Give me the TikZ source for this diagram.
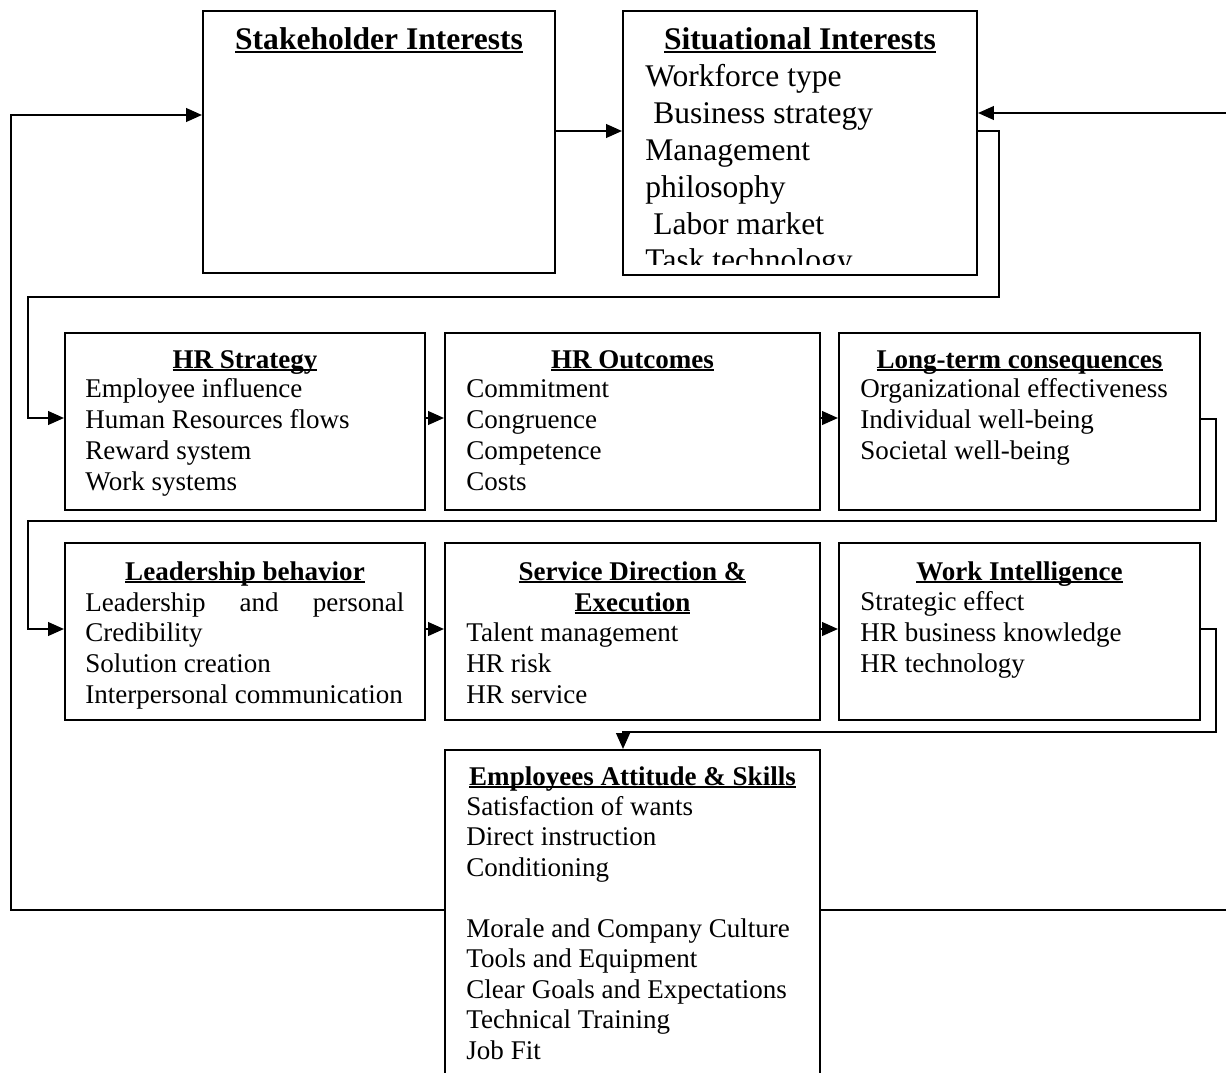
\documentclass[tikz,border=0pt]{standalone}
\usepackage{fontspec}
\setmainfont{Liberation Serif}
\usetikzlibrary{arrows.meta,fit}

\newsavebox{\titlebox}
\newcommand{\boxtitle}[1]{\sbox{\titlebox}{\textbf{#1}}%
  \rlap{\rule[-1.5pt]{\wd\titlebox}{0.9pt}}\usebox{\titlebox}}

\begin{document}
\begin{tikzpicture}[x=0.444pt, y=-0.444pt,
  box/.style={draw, line width=0.9pt, inner sep=0pt},
  big/.style={font=\fontsize{14pt}{17pt}\selectfont, inner sep=0pt},
  small/.style={font=\fontsize{12pt}{14pt}\selectfont, inner sep=0pt},
  arr/.style={line width=0.9pt, -{Triangle[length=7pt,width=6pt]}}]
  \useasboundingbox (0,0) rectangle (1226,1072);

  % boxes
  \node[box, fit={(203,11) (555,273)}] (stake) {};
  \node[box, fit={(623,11) (977,275)}] (sit) {};
  \node[box, fit={(65,333) (425,510)}] (hrs) {};
  \node[box, fit={(445,333) (820,510)}] (hro) {};
  \node[box, fit={(839,333) (1200,510)}] (lt) {};
  \node[box, fit={(65,543) (425,720)}] (lead) {};
  \node[box, fit={(445,543) (820,720)}] (sd) {};
  \node[box, fit={(839,543) (1200,720)}] (wi) {};
  \node[box, fit={(445,750) (820,1090)}] (emp) {};

  % top row
  \node[big, anchor=base] (stake-t) at (stake.north |- 0,50) {\boxtitle{Stakeholder Interests}};
  \node[big, anchor=base] (sit-t) at (sit.north |- 0,50) {\boxtitle{Situational Interests}};
  \begin{scope}
    \clip (sit.north west) rectangle ([yshift=5.3pt]sit.south east);
    \foreach \t [count=\i] in {Workforce type, \ Business strategy, Management,
        philosophy, \ Labor market, Task technology}
      \node[big, anchor=base west] (sit-\i) at (645, {50+36.8*\i}) {\t};
  \end{scope}

  % second row
  \node[small, anchor=base] (hrs-t) at (hrs.north |- 0,368) {\boxtitle{HR Strategy}};
  \foreach \t [count=\i] in {Employee influence, Human Resources flows, Reward system, Work systems}
    \node[small, anchor=base west] (hrs-\i) at (85, {367+30.8*\i}) {\t};
  \node[small, anchor=base] (hro-t) at (hro.north |- 0,368) {\boxtitle{HR Outcomes}};
  \foreach \t [count=\i] in {Commitment, Congruence, Competence, Costs}
    \node[small, anchor=base west] (hro-\i) at (466, {367+30.8*\i}) {\t};
  \node[small, anchor=base] (lt-t) at (lt.north |- 0,368) {\boxtitle{Long-term consequences}};
  \foreach \t [count=\i] in {Organizational effectiveness, Individual well-being, Societal well-being}
    \node[small, anchor=base west] (lt-\i) at (860, {367+30.8*\i}) {\t};

  % third row
  \node[small, anchor=base] (lead-t) at (lead.north |- 0,580) {\boxtitle{Leadership behavior}};
  \node[small, anchor=base west] (lead-1) at (85,611)
    {\hbox to 141.6pt{Leadership\hfil and\hfil personal}};
  \foreach \t [count=\i from 2] in {Credibility, Solution creation, Interpersonal communication}
    \node[small, anchor=base west] (lead-\i) at (85, {580+30.8*\i}) {\t};
  \node[small, anchor=base] (sd-t1) at (sd.north |- 0,580) {\boxtitle{Service Direction \&}};
  \node[small, anchor=base] (sd-t2) at (sd.north |- 0,611) {\boxtitle{Execution}};
  \foreach \t [count=\i] in {Talent management, HR risk, HR service}
    \node[small, anchor=base west] (sd-\i) at (466, {611+30.8*\i}) {\t};
  \node[small, anchor=base] (wi-t) at (wi.north |- 0,580) {\boxtitle{Work Intelligence}};
  \foreach \t [count=\i] in {Strategic effect, HR business knowledge, HR technology}
    \node[small, anchor=base west] (wi-\i) at (860, {580+30.8*\i}) {\t};

  % bottom box
  \node[small, anchor=base] (emp-t) at (emp.north |- 0,785) {\boxtitle{Employees Attitude \& Skills}};
  \foreach \t [count=\i] in {Satisfaction of wants, Direct instruction, Conditioning}
    \node[small, anchor=base west] (emp-\i) at (466, {785+30.4*\i}) {\t};
  \foreach \t [count=\i from 4] in {Morale and Company Culture, Tools and Equipment,
      Clear Goals and Expectations, Technical Training, Job Fit}
    \node[small, anchor=base west] (emp-\i) at (466, {815+30.5*\i}) {\t};

  % connectors
  \draw[arr] (stake.east |- 0,131) -- (sit.west |- 0,131);
  \draw[arr] (emp.west |- 0,910) -- (11,910) |- (stake.west |- 0,115);
  \draw[arr] (emp.east |- 0,910) -- (1240,910) |- (sit.east |- 0,113);
  \draw[arr] (sit.east |- 0,131) -- (999,131) -- (999,297) -- (28,297) |- (hrs.west |- 0,418);
  \draw[arr] (hrs.east |- 0,418) -- (hro.west |- 0,418);
  \draw[arr] (hro.east |- 0,418) -- (lt.west |- 0,418);
  \draw[arr] (lt.east |- 0,419) -- (1216,419) -- (1216,521) -- (28,521) |- (lead.west |- 0,629);
  \draw[arr] (lead.east |- 0,629) -- (sd.west |- 0,629);
  \draw[arr] (sd.east |- 0,629) -- (wi.west |- 0,629);
  \draw[arr] (wi.east |- 0,629) -- (1216,629) -- (1216,732) -- (623,732) -- (emp.north -| 623,0);
\end{tikzpicture}
\end{document}
